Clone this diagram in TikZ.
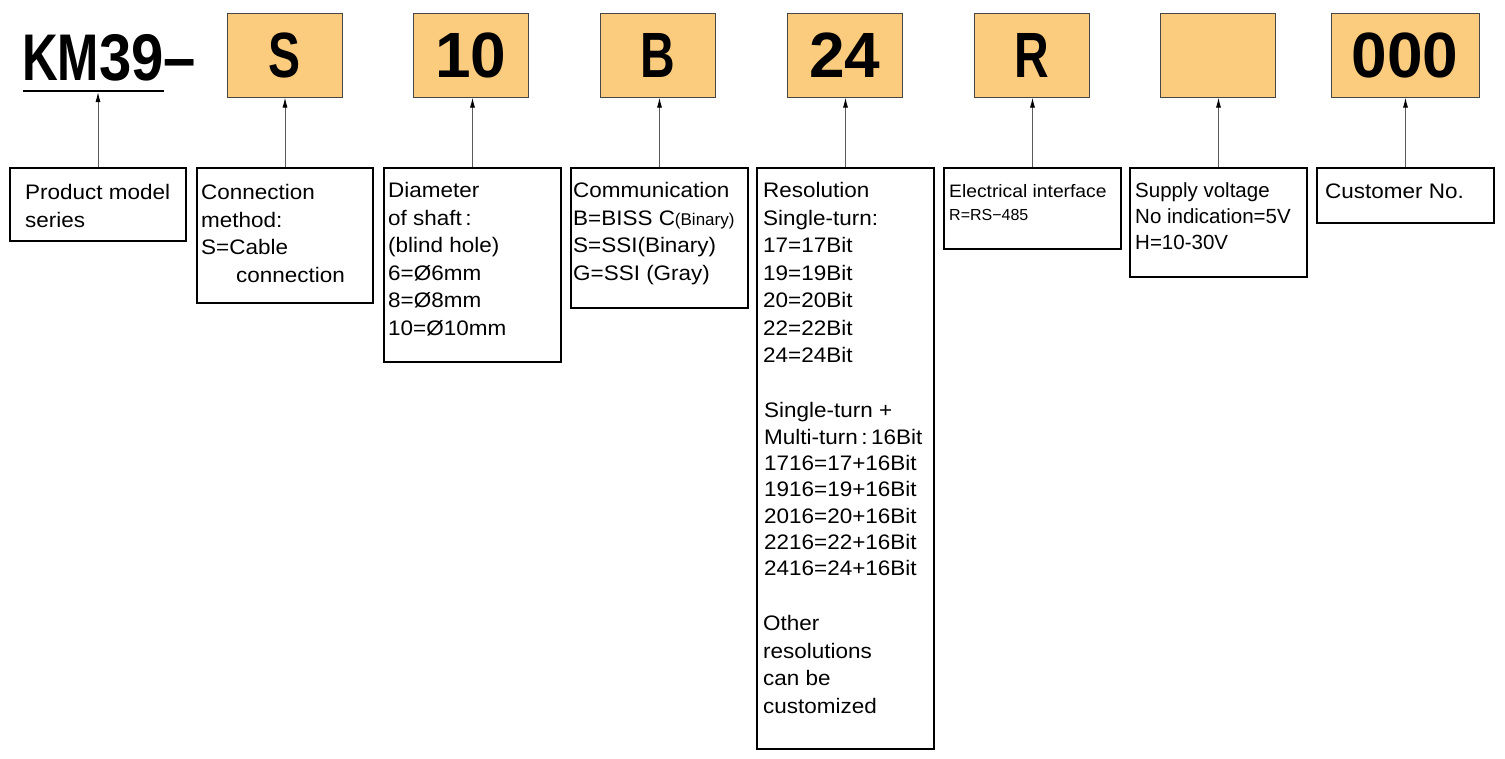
\documentclass[tikz,border=0pt]{standalone}
\usepackage{fontspec}
\setmainfont[FakeStretch=1.07]{Liberation Sans}
\newfontfamily\plainsans{Liberation Sans}
\newfontfamily\codedigit{Liberation Sans}
\newfontfamily\seriesdigit[FakeStretch=0.88]{Liberation Sans}
\newfontfamily\codeletter[FakeStretch=0.75]{Liberation Sans}
\usetikzlibrary{arrows.meta,positioning}
\definecolor{codefill}{RGB}{252,204,126}
\definecolor{codeedge}{RGB}{70,70,70}
\definecolor{arrowgray}{RGB}{90,90,90}
\tikzset{
  codebox/.style={draw=codeedge, line width=1pt, fill=codefill, minimum width=115pt,
    minimum height=84pt, inner sep=0pt, font=\fontsize{64}{64}\selectfont\bfseries},
  descbox/.style={draw=black, line width=2pt, anchor=north west, inner sep=0pt},
  desctext/.style={anchor=north west, align=left, inner sep=0pt,
    font=\fontsize{21}{27.5}\selectfont, execute at begin node={\rule{0pt}{15.5pt}}},
  descline/.style={anchor=base west, inner sep=0pt},
  pointer/.style={draw=arrowgray, line width=1pt, -{Latex[length=10pt,width=5pt,color=black]}}
}
\begin{document}
\begin{tikzpicture}[x=1pt,y=-1pt]
  \fill[white] (0,0) rectangle (1505,758);
  \useasboundingbox (0,0) rectangle (1505,758);

  % type code
  \node[anchor=base west, inner sep=0pt] (series) at (22,80)
    {\fontsize{66}{66}\selectfont\bfseries{\codeletter KM}{\seriesdigit 39–}};
  \draw[line width=2pt] (23,91) -- (164,91);
  \coordinate (kmbar) at (97,92);
  \node[codebox] (cconn) at (284.5,55) {\codeletter S};
  \node[codebox] (cdiam) at (471,55) {\codedigit 10};
  \node[codebox] (ccomm) at (658,55) {\codeletter B};
  \node[codebox] (cres) at (845,55) {\codedigit 24};
  \node[codebox] (celec) at (1031.5,55) {\codeletter R};
  \node[codebox] (csupp) at (1218,55) {};
  \node[codebox, minimum width=148pt] (ccust) at (1405,55) {\codedigit 000};

  % description boxes
  \node[descbox, minimum width=176pt, minimum height=73pt] (prod) at (9,166.5) {};
  \node[descbox, minimum width=176pt, minimum height=135pt] (conn) at (196,166.5) {};
  \node[descbox, minimum width=177pt, minimum height=194pt] (diam) at (383,166.5) {};
  \node[descbox, minimum width=177pt, minimum height=140pt] (comm) at (570,166.5) {};
  \node[descbox, minimum width=177pt, minimum height=581pt] (res) at (756,166.5) {};
  \node[descbox, minimum width=177pt, minimum height=81pt] (elec) at (943,166.5) {};
  \node[descbox, minimum width=177pt, minimum height=109pt] (supp) at (1129,166.5) {};
  \node[descbox, minimum width=177pt, minimum height=55pt] (cust) at (1316,166.5) {};

  % texts
  \node[desctext] (tprod) at (25,184.5) {Product model\\series};
  \node[desctext] (tconn) at (201,184.5) {Connection\\method:\\S=Cable\\\hspace*{35pt}connection};
  \node[desctext] (tdiam) at (388,182.5) {Diameter\\of shaft\,:\\(blind hole)\\6=Ø6mm\\8=Ø8mm\\10=Ø10mm};
  \node[desctext] (tcomm) at (573,182.5)
    {Communication\\B=BISS C{\plainsans\fontsize{17}{20}\selectfont(Binary)}\\S=SSI(Binary)\\G=SSI (Gray)};
  \node[desctext] (tres1) at (763,182.5)
    {Resolution\\Single-turn:\\17=17Bit\\19=19Bit\\20=20Bit\\22=22Bit\\24=24Bit};
  \node[desctext, font=\fontsize{21}{26.3}\selectfont] (tres2) at (764,402.5)
    {Single-turn +\\Multi-turn\,:\,16Bit\\1716=17+16Bit\\1916=19+16Bit\\2016=20+16Bit\\2216=22+16Bit\\2416=24+16Bit};
  \node[desctext] (tres3) at (763,615.5)
    {Other\\resolutions\\can be\\customized};
  \node[descline, font=\fontsize{18}{23}\selectfont] (telec) at (949,197) {Electrical interface};
  \node[descline, font=\fontsize{16}{20}\plainsans] (telec2) at (949,220) {R=RS−485};
  \node[desctext, font=\fontsize{20.5}{26}\plainsans] (tsupp) at (1135,182.5)
    {Supply voltage\\No indication=5V\\H=10-30V};
  \node[descline, font=\fontsize{21}{27.5}\selectfont] (tcust) at (1325,198) {Customer No.};

  % pointers
  \draw[pointer] (prod.north) -- (prod.north |- kmbar);
  \draw[pointer] (conn.north) -- (conn.north |- cconn.south);
  \draw[pointer] (diam.north) -- (diam.north |- cdiam.south);
  \draw[pointer] (comm.north) -- (comm.north |- ccomm.south);
  \draw[pointer] (res.north) -- (res.north |- cres.south);
  \draw[pointer] (elec.north) -- (elec.north |- celec.south);
  \draw[pointer] (supp.north) -- (supp.north |- csupp.south);
  \draw[pointer] (cust.north) -- (cust.north |- ccust.south);
\end{tikzpicture}
\end{document}
